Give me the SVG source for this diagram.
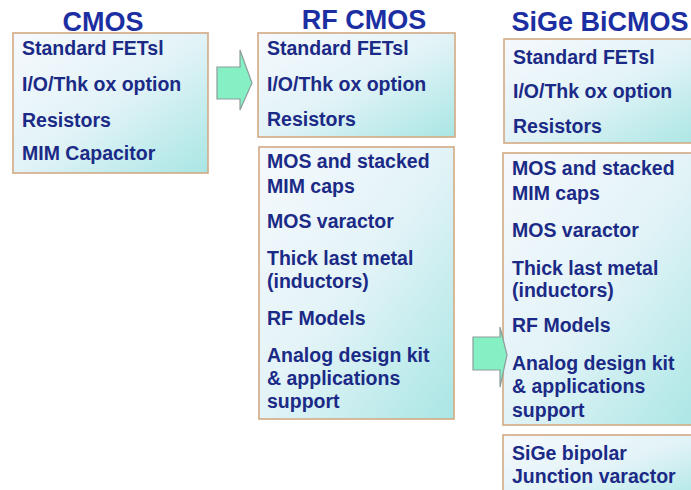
<svg xmlns="http://www.w3.org/2000/svg" width="691" height="490" viewBox="0 0 691 490">
<defs>
<linearGradient id="bg" x1="0" y1="0" x2="1" y2="1">
<stop offset="0" stop-color="#f6f9fd"/>
<stop offset="0.5" stop-color="#e2f3f7"/>
<stop offset="1" stop-color="#a9e6e4"/>
</linearGradient>
<style>
.box{fill:url(#bg);stroke:#d2aa82;stroke-width:1.6}
.t{font-family:"Liberation Sans",Arial,sans-serif;font-weight:bold;font-size:19.5px;fill:#1b2a86}
.h{font-family:"Liberation Sans",Arial,sans-serif;font-weight:bold;font-size:27px;fill:#1c2fa2;text-anchor:middle}
.arr{fill:#84f0c4;stroke:#8e9c9c;stroke-width:1.2}
</style>
</defs>
<rect width="691" height="490" fill="#ffffff"/>
<g id="cmos">
<text class="h" x="103" y="31">CMOS</text>
<rect class="box" x="13" y="33" width="195" height="140"/>
<text class="t" x="22" y="55">Standard FETsl</text>
<text class="t" x="22" y="91">I/O/Thk ox option</text>
<text class="t" x="22" y="127">Resistors</text>
<text class="t" x="22" y="160">MIM Capacitor</text>
</g>
<g id="rfcmos">
<text class="h" x="364" y="29">RF CMOS</text>
<rect class="box" x="258" y="33" width="197" height="104"/>
<text class="t" x="267" y="55">Standard FETsl</text>
<text class="t" x="267" y="91">I/O/Thk ox option</text>
<text class="t" x="267" y="126">Resistors</text>
</g>
<g id="rfcmos-rf">
<rect class="box" x="259" y="147" width="195" height="272"/>
<text class="t" x="267" y="168">MOS and stacked</text>
<text class="t" x="267" y="193">MIM caps</text>
<text class="t" x="267" y="228">MOS varactor</text>
<text class="t" x="267" y="265">Thick last metal</text>
<text class="t" x="267" y="288">(inductors)</text>
<text class="t" x="267" y="325">RF Models</text>
<text class="t" x="267" y="362">Analog design kit</text>
<text class="t" x="267" y="385">&amp; applications</text>
<text class="t" x="267" y="408">support</text>
</g>
<g id="sige">
<text class="h" x="600" y="31">SiGe BiCMOS</text>
<rect class="box" x="504" y="39" width="200" height="104"/>
<text class="t" x="513" y="64">Standard FETsl</text>
<text class="t" x="513" y="98">I/O/Thk ox option</text>
<text class="t" x="513" y="133">Resistors</text>
</g>
<g id="sige-rf">
<rect class="box" x="503" y="153" width="200" height="272"/>
<text class="t" x="512" y="175">MOS and stacked</text>
<text class="t" x="512" y="200">MIM caps</text>
<text class="t" x="512" y="237">MOS varactor</text>
<text class="t" x="512" y="275">Thick last metal</text>
<text class="t" x="512" y="297">(inductors)</text>
<text class="t" x="512" y="332">RF Models</text>
<text class="t" x="512" y="370">Analog design kit</text>
<text class="t" x="512" y="393">&amp; applications</text>
<text class="t" x="512" y="417">support</text>
</g>
<g id="sige-bip">
<rect class="box" x="503" y="435" width="200" height="70"/>
<text class="t" x="512" y="460">SiGe bipolar</text>
<text class="t" x="512" y="483">Junction varactor</text>
</g>
<g id="connectors">
<path class="arr" d="M217,67 H240 V50 L252,83 L240,110 V99 H217 Z"/>
<path class="arr" d="M473,337 H500 V327 L507,355 L500,387 V370 H473 Z"/>
</g>
</svg>
